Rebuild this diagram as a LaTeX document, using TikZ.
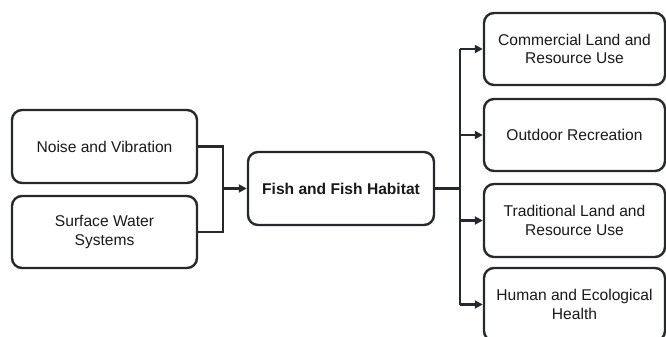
\documentclass[tikz,border=0pt]{standalone}
\usepackage{fontspec}
\setmainfont{Liberation Sans}
\usetikzlibrary{arrows.meta}
\definecolor{ln}{HTML}{25292D}
\begin{document}
\begin{tikzpicture}[x=1pt,y=-1pt,
  box/.style={draw=ln, line width=2.4pt, rounded corners=10pt, fill=white,
    align=center, inner sep=0pt, text=black!90,
    font=\fontsize{15.6}{18.5}\selectfont},
  conn/.style={draw=ln, line width=2.4pt},
  arr/.style={conn, -{Triangle[length=8pt,width=8pt]}}]
\useasboundingbox (0,0) rectangle (666,337);
\node[box, minimum width=185pt, minimum height=73pt] (nv) at (104.5,146.5) {Noise and Vibration};
\node[box, minimum width=185pt, minimum height=72pt] (sw) at (104.5,232) {Surface Water\\Systems};
\node[box, minimum width=186pt, minimum height=73pt, font=\fontsize{15.6}{18.5}\selectfont\bfseries] (fh) at (341,188.5) {Fish and Fish Habitat};
\node[box, minimum width=181pt, minimum height=72pt] (r1) at (574.5,49) {Commercial Land and\\Resource Use};
\node[box, minimum width=181pt, minimum height=72pt] (r2) at (574.5,135) {Outdoor Recreation};
\node[box, minimum width=181pt, minimum height=73pt] (r3) at (574.5,220.5) {Traditional Land and\\Resource Use};
\node[box, minimum width=181pt, minimum height=73pt] (r4) at (574.5,304.5) {Human and Ecological\\Health};
\coordinate (jl) at (223,188.5);
\coordinate (jr) at (460,188.5);
\draw[conn] (nv.east) -| (jl) |- (sw.east);
\draw[arr] (jl) -- (fh.west);
\draw[conn] (fh.east) -- (jr);
\draw[conn] (r1.west -| jr) -- (r4.west -| jr);
\draw[arr] (r1.west -| jr) -- (r1.west);
\draw[arr] (r2.west -| jr) -- (r2.west);
\draw[arr] (r3.west -| jr) -- (r3.west);
\draw[arr] (r4.west -| jr) -- (r4.west);
\end{tikzpicture}
\end{document}
